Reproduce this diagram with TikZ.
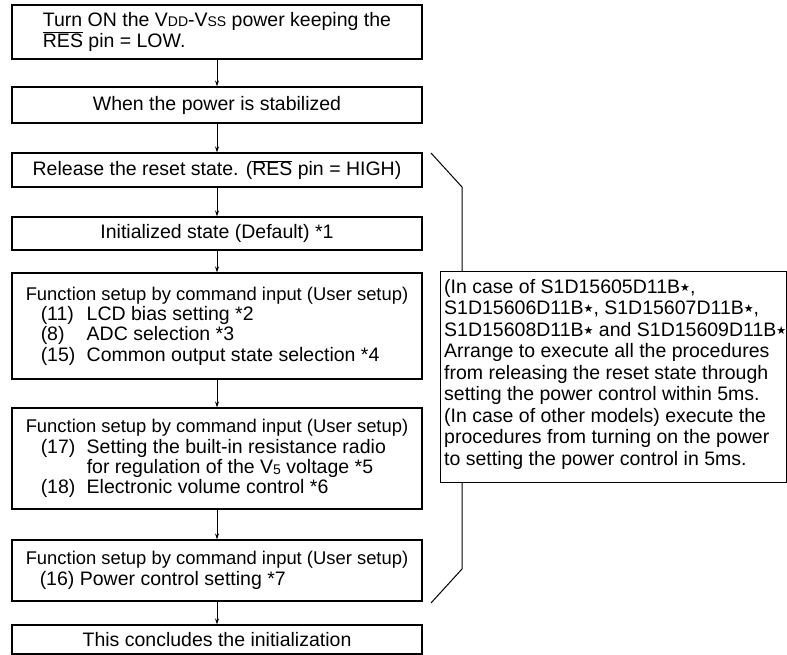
\documentclass[tikz,border=0pt]{standalone}
\usepackage{fontspec}
\setmainfont{Liberation Sans}
\newfontfamily\symfont{DejaVu Sans}
\usetikzlibrary{arrows.meta}
\newcommand\ovl[1]{$\overline{\mbox{#1}}$}
\newcommand\sml[1]{{\fontsize{14}{14}\selectfont #1}}
\newcommand\bstar{\raisebox{2pt}{\symfont\fontsize{11}{11}\selectfont ★}}
\newcommand\numcol[1]{\makebox[46pt][l]{#1}}
\newcommand\ttl[1]{{\fontsize{18.4}{20.3}\selectfont #1}}
\begin{document}
\begin{tikzpicture}[x=1pt,y=-1pt,
  every node/.style={font=\fontsize{19.5}{20.3}\selectfont},
  box/.style={draw,line width=1.1pt,minimum width=410pt,inner sep=0pt,align=left},
  arr/.style={line width=0.8pt,-{Stealth[length=6pt,width=4pt]}},
  brk/.style={line width=1pt}]
\useasboundingbox (0,0) rectangle (787,655);

\node[box,minimum height=54pt] (b1) at (217,32)
  {Turn ON the V\sml{DD}-V\sml{SS} power keeping the\\ \ovl{RES} pin = LOW.};
\node[box,minimum height=36pt] (b2) at (217,105) {When the power is stabilized};
\node[box,minimum height=34pt] (b3) at (217,170) {Release the reset state. (\ovl{RES} pin = HIGH)};
\node[box,minimum height=33pt] (b4) at (217,233.5) {Initialized state (Default) *1};
\node[box,minimum height=106pt] (b5) at (217,326)
  {\ttl{Function setup by command input (User setup)}\\
   \hspace*{15pt}\numcol{(11)}LCD bias setting *2\\
   \hspace*{15pt}\numcol{(8)}ADC selection *3\\
   \hspace*{15pt}\numcol{(15)}Common output state selection *4};
\node[box,minimum height=101pt] (b6) at (217,458.5)
  {\ttl{Function setup by command input (User setup)}\\
   \hspace*{15pt}\numcol{(17)}Setting the built-in resistance radio\\
   \hspace*{61pt}for regulation of the V\raisebox{-1.5pt}{\sml{5}} voltage *5\\
   \hspace*{15pt}\numcol{(18)}Electronic volume control *6};
\node[box,minimum height=61pt] (b7) at (217,570.5)
  {\ttl{Function setup by command input (User setup)}\\
   \hspace*{14pt}(16) Power control setting *7};
\node[box,minimum height=29pt] (b8) at (217,639.5) {This concludes the initialization};

\draw[arr] (b1.south) -- (b2.north);
\draw[arr] (b2.south) -- (b3.north);
\draw[arr] (b3.south) -- (b4.north);
\draw[arr] (b4.south) -- (b5.north);
\draw[arr] (b5.south) -- (b6.north);
\draw[arr] (b6.south) -- (b7.north);
\draw[arr] (b7.south) -- (b8.north);

\node[draw,line width=1.1pt,minimum width=346pt,minimum height=211pt,inner sep=0pt,anchor=north west] (note) at (440,271) {};
\node[anchor=north west,align=left,inner sep=0pt,font=\fontsize{19.5}{21.5}\selectfont] (notetext) at ([xshift=4pt,yshift=-8pt]note.north west)
  {(In case of S1D15605D11B\bstar,\\
   S1D15606D11B\bstar, S1D15607D11B\bstar,\\
   S1D15608D11B\bstar\ and S1D15609D11B\bstar\\
   Arrange to execute all the procedures\\
   from releasing the reset state through\\
   setting the power control within 5ms.\\
   (In case of other models) execute the\\
   procedures from turning on the power\\
   to setting the power control in 5ms.};

\coordinate (brT) at (431,153);
\coordinate (brT2) at (462,187);
\coordinate (brB) at (431,603);
\coordinate (brB2) at (462,569);
\draw[brk] (brT) -- (brT2) -- (brT2 |- note.north);
\draw[brk] (brB2 |- note.south) -- (brB2) -- (brB);
\end{tikzpicture}
\end{document}
